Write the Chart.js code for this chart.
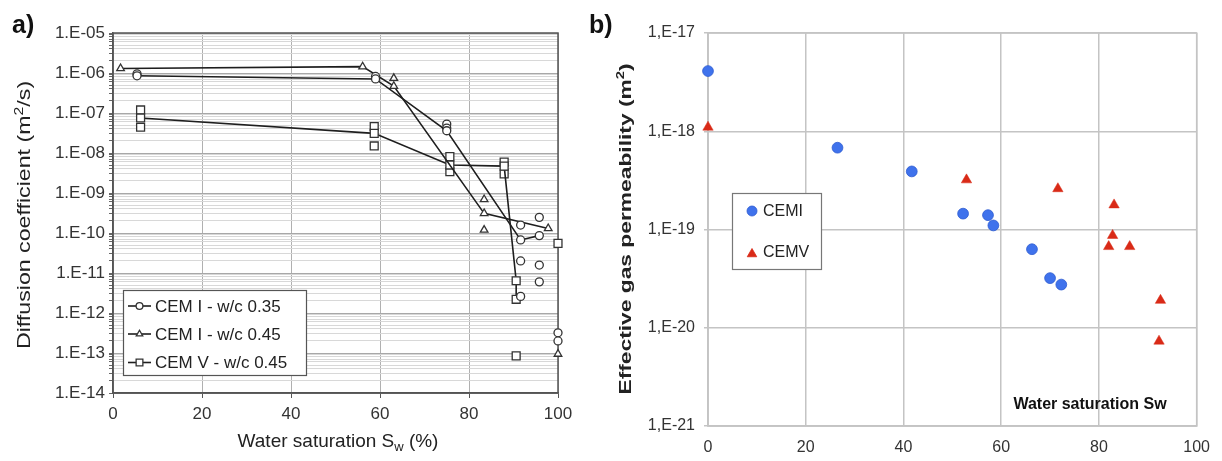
<!DOCTYPE html>
<html><head><meta charset="utf-8">
<script src="https://cdn.jsdelivr.net/npm/chart.js@4.4.0/dist/chart.umd.min.js"></script>
<style>
html,body{margin:0;padding:0;background:#fff;width:1222px;height:461px;overflow:hidden;}
#wa{position:absolute;left:0;top:0;width:600px;height:461px;}
#wb{position:absolute;left:580px;top:0;width:642px;height:461px;}
</style></head><body>
<div id="wa"><canvas id="ca"></canvas></div>
<div id="wb"><canvas id="cb"></canvas></div>
<script>
// ---------- Panel a data: water saturation (%) vs diffusion coefficient (m2/s) ----------
const cemI035LineX  = [5.4, 59.0, 75.0, 91.6, 95.8];
const cemI035LineY  = [8.5e-7, 7.1e-7, 3.6e-8, 6.7e-11, 8.6e-11];
const cemI035ExtraX = [5.4, 59.0, 75.0, 75.0, 91.6, 91.6, 91.6, 95.8, 95.8, 95.8, 100, 100];
const cemI035ExtraY = [9.5e-7, 8.2e-7, 5.3e-8, 4.2e-8, 1.58e-10, 2.0e-11, 2.6e-12, 2.46e-10, 1.58e-11, 6.0e-12, 3.2e-13, 2.0e-13];

const cemI045LineX  = [1.7, 56.1, 63.1, 83.4, 97.8];
const cemI045LineY  = [1.3e-6, 1.44e-6, 4.7e-7, 3.1e-10, 1.3e-10];
const cemI045ExtraX = [63.1, 83.4, 83.4, 100];
const cemI045ExtraY = [7.4e-7, 6.9e-10, 1.19e-10, 9.4e-14];

const cemV045LineX  = [6.2, 58.7, 75.7, 87.9, 90.6, 90.6];
const cemV045LineY  = [7.5e-8, 3.1e-8, 5.0e-9, 4.7e-9, 6.4e-12, 2.2e-12];
const cemV045ExtraX = [6.2, 6.2, 58.7, 58.7, 75.7, 75.7, 87.9, 87.9, 90.6, 100];
const cemV045ExtraY = [1.19e-7, 4.4e-8, 4.6e-8, 1.5e-8, 8.1e-9, 3.4e-9, 5.9e-9, 3.0e-9, 8.5e-14, 5.5e-11];

const legendLabelsA = ['CEM I - w/c 0.35', 'CEM I - w/c 0.45', 'CEM V - w/c 0.45'];
const xTicksA = [0, 20, 40, 60, 80, 100];
const yTickLabelsA = ['1.E-14','1.E-13','1.E-12','1.E-11','1.E-10','1.E-09','1.E-08','1.E-07','1.E-06','1.E-05'];

// ---------- Panel b data: water saturation vs effective gas permeability (m2) ----------
const cemiX = [0, 26.5, 41.7, 52.2, 57.3, 58.4, 66.3, 70.0, 72.3];
const cemiY = [4.1e-18, 6.8e-19, 3.9e-19, 1.45e-19, 1.4e-19, 1.1e-19, 6.3e-20, 3.2e-20, 2.75e-20];
const cemvX = [0, 52.9, 71.6, 83.1, 82.8, 82.0, 86.3, 92.6, 92.3];
const cemvY = [1.1e-18, 3.2e-19, 2.6e-19, 1.78e-19, 8.7e-20, 6.7e-20, 6.7e-20, 1.9e-20, 7.3e-21];
const legendLabelsB = ['CEMI', 'CEMV'];
const xTicksB = [0, 20, 40, 60, 80, 100];
const yTickLabelsB = ['1,E-21','1,E-20','1,E-19','1,E-18','1,E-17'];

const FONT = "'Liberation Sans', Arial, sans-serif";
const zip = (xs, ys) => xs.map((x, i) => ({x: x, y: ys[i]}));

function logTicks(minExp, maxExp, withMinor) {
  const t = [];
  for (let e = minExp; e < maxExp; e++) {
    const ms = withMinor ? [1,2,3,4,5,6,7,8,9] : [1];
    for (const m of ms) t.push({value: m * Math.pow(10, e)});
  }
  t.push({value: Math.pow(10, maxExp)});
  return t;
}
function decadeExp(v) {
  const l = Math.log10(v);
  return Math.abs(l - Math.round(l)) < 1e-6 ? Math.round(l) : null;
}
function drawRich(ctx, segs, x, y, rot, align, stretch) {
  ctx.save();
  ctx.translate(x, y);
  ctx.rotate(rot);
  if (stretch) ctx.scale(stretch, 1);
  let total = 0;
  segs.forEach(s => { ctx.font = s.font; s.w = ctx.measureText(s.t).width; total += s.w; });
  let cx = align === 'center' ? -total / 2 : 0;
  ctx.textBaseline = 'alphabetic';
  ctx.textAlign = 'left';
  segs.forEach(s => { ctx.font = s.font; ctx.fillStyle = s.color || '#222'; ctx.fillText(s.t, cx, s.dy || 0); cx += s.w; });
  ctx.restore();
}

const boxPlugin = {
  id: 'box',
  beforeDatasetsDraw(chart, args, opts) {
    const a = chart.chartArea, ctx = chart.ctx;
    ctx.save();
    ctx.strokeStyle = opts.color; ctx.lineWidth = opts.width;
    ctx.strokeRect(a.left, a.top, a.right - a.left, a.bottom - a.top);
    ctx.restore();
  }
};

// ---------------- Panel a ----------------
const lineStyle = {showLine: true, borderColor: '#1e1e1e', borderWidth: 1.6, pointBackgroundColor: '#fff', pointBorderColor: '#333', pointBorderWidth: 1.3, clip: false};
const dotStyle = {showLine: false, pointBackgroundColor: '#fff', pointBorderColor: '#333', pointBorderWidth: 1.3, clip: false};
const markA = [
  {pointStyle: 'circle', pointRadius: 4},
  {pointStyle: 'triangle', pointRadius: 4.4},
  {pointStyle: 'rect', pointRadius: 5.6}
];

const annotA = {
  id: 'annotA',
  afterDraw(chart) {
    const ctx = chart.ctx;
    drawRich(ctx, [{t: 'a)', font: 'bold 25px ' + FONT, color: '#111'}], 12, 33, 0, 'left');
    const f = '19px ' + FONT, fs = '13px ' + FONT;
    drawRich(ctx, [{t: 'Diffusion coefficient (m', font: f}, {t: '2', font: fs, dy: -7}, {t: '/s)', font: f}], 30, 215, -Math.PI / 2, 'center', 1.22);
    drawRich(ctx, [{t: 'Water saturation S', font: f}, {t: 'w', font: fs, dy: 4}, {t: ' (%)', font: f}], 338, 447, 0, 'center');
    // legend
    ctx.save();
    ctx.fillStyle = '#fff'; ctx.fillRect(123, 290, 183, 85);
    ctx.strokeStyle = '#555'; ctx.lineWidth = 1.2; ctx.strokeRect(123.5, 290.5, 183, 85);
    const rows = [306, 334, 362.5];
    rows.forEach((ry, i) => {
      ctx.strokeStyle = '#1e1e1e'; ctx.lineWidth = 1.6;
      ctx.beginPath(); ctx.moveTo(128, ry); ctx.lineTo(151, ry); ctx.stroke();
      ctx.fillStyle = '#fff'; ctx.strokeStyle = '#333'; ctx.lineWidth = 1.3;
      Chart.helpers.drawPoint(ctx, {pointStyle: markA[i].pointStyle, radius: markA[i].pointRadius * 0.85, borderWidth: 1.3, rotation: 0}, 139.5, ry);
      ctx.fillStyle = '#222'; ctx.font = '17px ' + FONT; ctx.textBaseline = 'middle';
      ctx.fillText(legendLabelsA[i], 155, ry + 1);
    });
    ctx.restore();
  }
};

new Chart(document.getElementById('ca'), {
  type: 'scatter',
  data: {datasets: [
    Object.assign({data: zip(cemI035LineX, cemI035LineY)}, lineStyle, markA[0]),
    Object.assign({data: zip(cemI035ExtraX, cemI035ExtraY)}, dotStyle, markA[0]),
    Object.assign({data: zip(cemI045LineX, cemI045LineY)}, lineStyle, markA[1]),
    Object.assign({data: zip(cemI045ExtraX, cemI045ExtraY)}, dotStyle, markA[1]),
    Object.assign({data: zip(cemV045LineX, cemV045LineY)}, lineStyle, markA[2]),
    Object.assign({data: zip(cemV045ExtraX, cemV045ExtraY)}, dotStyle, markA[2])
  ]},
  options: {
    responsive: true, maintainAspectRatio: false, animation: false, devicePixelRatio: 1,
    layout: {padding: {top: 33, right: 42, left: 0, bottom: 0}},
    plugins: {legend: {display: false}, tooltip: {enabled: false}, box: {color: '#555', width: 1.5}},
    scales: {
      x: {
        type: 'linear', min: 0, max: 100,
        afterBuildTicks: s => { s.ticks = xTicksA.map(v => ({value: v})); },
        afterFit: s => { s.height = 68; },
        ticks: {font: {family: FONT, size: 17}, color: '#333', padding: 6, maxRotation: 0},
        grid: {color: '#b0b0b0', lineWidth: 1, tickLength: 5, tickColor: '#555'},
        border: {display: true, color: '#555', width: 1.5}
      },
      y: {
        type: 'logarithmic', min: 1e-14, max: 1e-5,
        afterBuildTicks: s => { s.ticks = logTicks(-14, -5, true); },
        afterFit: s => { s.width = 113; },
        ticks: {
          autoSkip: false, font: {family: FONT, size: 17}, color: '#333', padding: 4,
          callback: v => { const e = decadeExp(v); return e === null ? '' : yTickLabelsA[e + 14]; }
        },
        grid: {
          color: c => (c.tick && decadeExp(c.tick.value) !== null) ? '#a8a8a8' : '#d8d8d8',
          lineWidth: 1, tickLength: 4, tickColor: '#666'
        },
        border: {display: true, color: '#555', width: 1.5}
      }
    }
  },
  plugins: [boxPlugin, annotA]
});

// ---------------- Panel b ----------------
const blue = '#3f72ec', red = '#d92a17';
const annotB = {
  id: 'annotB',
  afterDraw(chart) {
    const ctx = chart.ctx, ox = 580;
    drawRich(ctx, [{t: 'b)', font: 'bold 25px ' + FONT, color: '#111'}], 589 - ox, 33, 0, 'left');
    drawRich(ctx, [{t: 'Effective gas permeability (m', font: 'bold 17px ' + FONT}, {t: '2', font: 'bold 11px ' + FONT, dy: -7}, {t: ')', font: 'bold 17px ' + FONT}], 631 - ox, 229, -Math.PI / 2, 'center', 1.34);
    drawRich(ctx, [{t: 'Water saturation Sw', font: 'bold 16px ' + FONT, color: '#111'}], 1090 - ox, 409, 0, 'center');
    ctx.save();
    ctx.fillStyle = '#fff'; ctx.fillRect(732 - ox, 193, 90, 76);
    ctx.strokeStyle = '#777'; ctx.lineWidth = 1.2; ctx.strokeRect(732.5 - ox, 193.5, 89, 76);
    ctx.fillStyle = blue; ctx.strokeStyle = '#2c5bd0'; ctx.lineWidth = 0.8;
    Chart.helpers.drawPoint(ctx, {pointStyle: 'circle', radius: 5, borderWidth: 0.8, rotation: 0}, 752 - ox, 211);
    ctx.fillStyle = red; ctx.strokeStyle = red;
    Chart.helpers.drawPoint(ctx, {pointStyle: 'triangle', radius: 5.5, borderWidth: 0.5, rotation: 0}, 752 - ox, 254);
    ctx.fillStyle = '#222'; ctx.font = '16px ' + FONT; ctx.textBaseline = 'middle';
    ctx.fillText(legendLabelsB[0], 763 - ox, 212);
    ctx.fillText(legendLabelsB[1], 763 - ox, 253);
    ctx.restore();
  }
};

new Chart(document.getElementById('cb'), {
  type: 'scatter',
  data: {datasets: [
    {data: zip(cemiX, cemiY), pointStyle: 'circle', pointRadius: 5.4, pointBackgroundColor: blue, pointBorderColor: '#2c5bd0', pointBorderWidth: 0.8, clip: false},
    {data: zip(cemvX, cemvY), pointStyle: 'triangle', pointRadius: 6, pointBackgroundColor: red, pointBorderColor: red, pointBorderWidth: 0.5, clip: false}
  ]},
  options: {
    responsive: true, maintainAspectRatio: false, animation: false, devicePixelRatio: 1,
    layout: {padding: {top: 33, right: 20, left: 0, bottom: 0}},
    plugins: {legend: {display: false}, tooltip: {enabled: false}, box: {color: '#c4c4c4', width: 1.5}},
    scales: {
      x: {
        type: 'linear', min: 0, max: 100,
        afterBuildTicks: s => { s.ticks = xTicksB.map(v => ({value: v})); },
        afterFit: s => { s.height = 35; },
        ticks: {font: {family: FONT, size: 16}, color: '#333', padding: 12, maxRotation: 0},
        grid: {color: '#c4c4c4', lineWidth: 1.5, drawTicks: false},
        border: {display: true, color: '#c4c4c4', width: 1.5}
      },
      y: {
        type: 'logarithmic', min: 1e-21, max: 1e-17,
        afterBuildTicks: s => { s.ticks = logTicks(-21, -17, false); },
        afterFit: s => { s.width = 128; },
        ticks: {
          autoSkip: false, font: {family: FONT, size: 16}, color: '#333', padding: 9,
          callback: v => { const e = decadeExp(v); return e === null ? '' : yTickLabelsB[e + 21]; }
        },
        grid: {color: '#c4c4c4', lineWidth: 1.5, tickLength: 4, tickColor: '#c4c4c4'},
        border: {display: true, color: '#c4c4c4', width: 1.5}
      }
    }
  },
  plugins: [boxPlugin, annotB]
});
</script>
</body></html>
